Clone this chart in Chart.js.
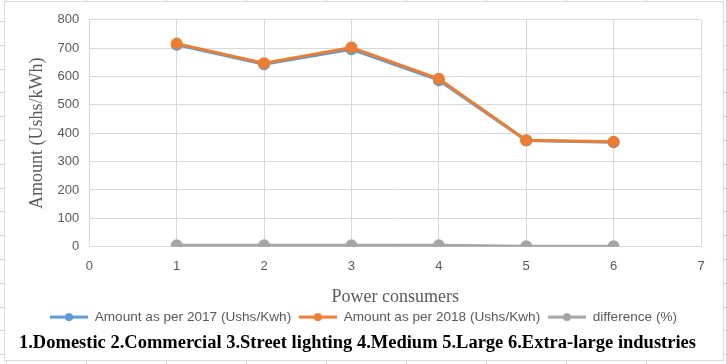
<!DOCTYPE html>
<html>
<head>
<meta charset="utf-8">
<script src="https://cdn.jsdelivr.net/npm/chart.js@4"></script>
<style>
  html, body { margin: 0; padding: 0; }
  body {
    width: 727px; height: 364px; overflow: hidden; position: relative;
    background-color: #fff;
    background-image:
      repeating-linear-gradient(to right, transparent 0, transparent 6px, #d4d4d4 6px, #d4d4d4 7px, transparent 7px, transparent 80px),
      repeating-linear-gradient(to bottom, transparent 0, transparent 21px, #d4d4d4 21px, #d4d4d4 22px, transparent 22px, transparent 23.8px);
  }
  #box {
    position: absolute; left: 4px; top: 1px; width: 718px; height: 358px;
    background: #fff; border: 1px solid #d9d9d9;
  }
  #caption {
    position: absolute; left: 0; top: 332px; width: 715px;
    text-align: center; line-height: 22px; white-space: nowrap;
    font: bold 18.5px 'Liberation Serif', serif; color: #000;
  }
</style>
</head>
<body>
<div id="box"><canvas id="myChart"></canvas></div>
<div id="caption">1.Domestic 2.Commercial 3.Street lighting 4.Medium 5.Large 6.Extra-large industries</div>
<script>
const consumers = [1, 2, 3, 4, 5, 6];
const amount2017 = [712, 643, 696, 587, 374, 368];
const amount2018 = [716, 647, 702, 592, 375, 370];
const difference = [4.5, 4.5, 4.5, 4.5, 1, 1];

const toPoints = (vals) => consumers.map((c, i) => ({ x: c, y: vals[i] }));

// little line+dot swatches for the legend, Excel style
function swatch(color) {
	const c = document.createElement('canvas');
	c.width = 38; c.height = 10;
	const g = c.getContext('2d');
	g.strokeStyle = color; g.lineWidth = 3;
	g.beginPath(); g.moveTo(0, 5); g.lineTo(38, 5); g.stroke();
	g.fillStyle = color;
	g.beginPath(); g.arc(19, 5, 4, 0, Math.PI * 2); g.fill();
	return c;
}

const ctx = document.getElementById('myChart');
ctx.width = 718; ctx.height = 358;

new Chart(ctx, {
	type: 'scatter',
	data: {
		datasets: [{
			label: 'Amount as per 2017 (Ushs/Kwh)',
			data: toPoints(amount2017),
			showLine: true,
			borderColor: '#5B9BD5',
			backgroundColor: '#5B9BD5',
			borderWidth: 3,
			pointRadius: 4.5,
			order: 2
		}, {
			label: 'Amount as per 2018 (Ushs/Kwh)',
			data: toPoints(amount2018),
			showLine: true,
			borderColor: '#ED7D31',
			backgroundColor: '#ED7D31',
			borderWidth: 3,
			pointRadius: 4.5,
			order: 1
		}, {
			label: 'difference (%)',
			data: toPoints(difference),
			showLine: true,
			borderColor: '#A5A5A5',
			backgroundColor: '#A5A5A5',
			borderWidth: 3,
			pointRadius: 4.5,
			order: 0
		}]
	},
	options: {
		responsive: false,
		animation: false,
		layout: { padding: { top: 10, right: 22, left: 21, bottom: 26.1 } },
		plugins: {
			legend: {
				position: 'bottom',
				labels: {
					usePointStyle: true,
					pointStyleWidth: 38,
					boxHeight: 10,
					padding: 7.75,
					color: '#595959',
					font: { family: 'Liberation Sans', size: 13.6 },
					generateLabels: (chart) => chart.data.datasets.map((ds, i) => ({
						text: ds.label,
						pointStyle: swatch(ds.borderColor),
						fillStyle: ds.borderColor,
						strokeStyle: ds.borderColor,
						fontColor: '#595959',
						lineWidth: 0,
						datasetIndex: i
					}))
				}
			},
			title: { display: false },
			tooltip: { enabled: false }
		},
		scales: {
			x: {
				type: 'linear',
				min: 0, max: 7,
				ticks: { stepSize: 1, color: '#595959', font: { family: 'Liberation Sans', size: 13 }, padding: 12 },
				grid: { color: '#d9d9d9', drawTicks: false },
				border: { color: '#d9d9d9' },
				title: {
					display: true,
					text: 'Power consumers',
					color: '#595959',
					font: { family: 'Liberation Serif', size: 18, lineHeight: 0.5 },
					padding: { top: 6.7, bottom: 0.6 }
				}
			},
			y: {
				min: 0, max: 800,
				ticks: { stepSize: 100, color: '#595959', font: { family: 'Liberation Sans', size: 13 }, padding: 10 },
				grid: { color: '#d9d9d9', drawTicks: false },
				border: { color: '#d9d9d9' },
				title: {
					display: true,
					text: 'Amount (Ushs/kWh)',
					color: '#595959',
					font: { family: 'Liberation Serif', size: 18 },
					padding: { top: 0, bottom: 0 }
				}
			}
		}
	}
});
</script>
</body>
</html>
